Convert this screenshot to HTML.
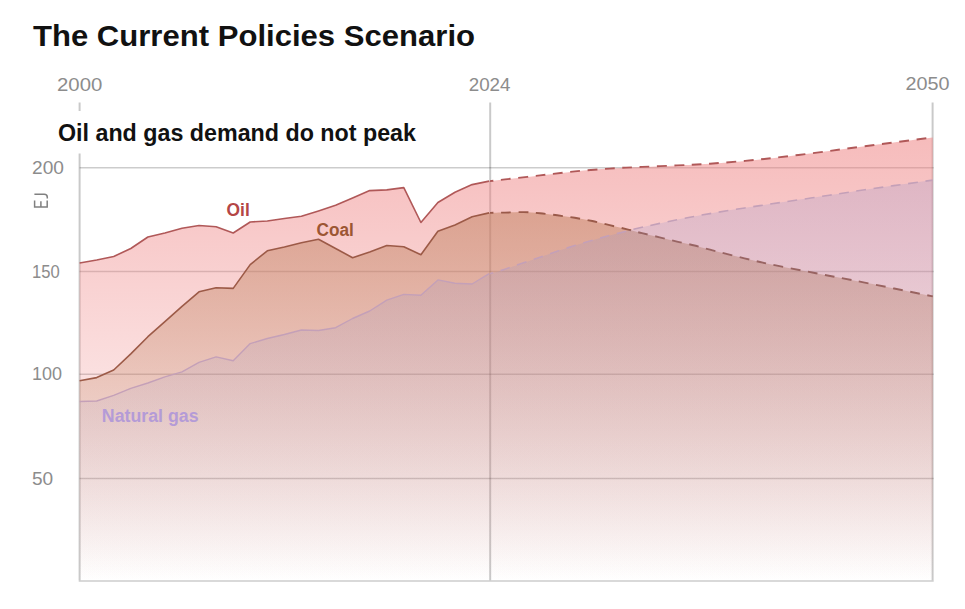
<!DOCTYPE html>
<html>
<head>
<meta charset="utf-8">
<title>The Current Policies Scenario</title>
<style>
html,body{margin:0;padding:0;background:#fff;}
body{width:965px;height:609px;overflow:hidden;font-family:"Liberation Sans",sans-serif;}
svg{display:block;position:absolute;left:0;top:0;}
text{font-family:"Liberation Sans",sans-serif;}
.ax{fill:#8c8c8c;font-size:18px;}
.b{font-weight:bold;}
</style>
</head>
<body>
<svg width="965" height="609" viewBox="0 0 965 609">
<defs>
<linearGradient id="gOil" gradientUnits="userSpaceOnUse" x1="0" y1="138" x2="0" y2="581">
<stop offset="0" stop-color="#ee8080" stop-opacity="0.53"/>
<stop offset="1" stop-color="#ee8080" stop-opacity="0"/>
</linearGradient>
<linearGradient id="gCoal" gradientUnits="userSpaceOnUse" x1="0" y1="212" x2="0" y2="581">
<stop offset="0" stop-color="#be7d59" stop-opacity="0.487"/>
<stop offset="1" stop-color="#be7d59" stop-opacity="0"/>
</linearGradient>
<linearGradient id="gGas" gradientUnits="userSpaceOnUse" x1="0" y1="179" x2="0" y2="581">
<stop offset="0" stop-color="#918fcb" stop-opacity="0.235"/>
<stop offset="1" stop-color="#918fcb" stop-opacity="0"/>
</linearGradient>
</defs>
<rect width="965" height="609" fill="#fff"/>

<!-- grid (under fills) -->
<g stroke="#000" stroke-opacity="0.2" fill="none">
<g stroke-width="1.5">
<line x1="79.6" y1="167.8" x2="933.6" y2="167.8"/>
<line x1="79.6" y1="271.6" x2="933.6" y2="271.6"/>
<line x1="79.6" y1="374.3" x2="933.6" y2="374.3"/>
<line x1="79.6" y1="478.6" x2="933.6" y2="478.6"/>
</g>
<g stroke-width="2" stroke-opacity="0.21">
<line x1="79.6" y1="102.5" x2="79.6" y2="580.25"/>
<line x1="490.2" y1="102.5" x2="490.2" y2="580.25"/>
<line x1="932.6" y1="102.5" x2="932.6" y2="580.25"/>
</g>
</g>

<!-- oil -->
<path d="M79.6,263.0 L96.7,260.0 L113.7,256.5 L130.8,248.5 L147.9,237.0 L164.9,233.0 L182.0,228.3 L199.0,225.5 L216.1,226.7 L233.2,233.0 L250.2,222.0 L267.3,221.0 L284.4,218.5 L301.4,216.3 L318.5,211.0 L335.6,205.3 L352.6,198.0 L369.7,190.6 L386.8,189.9 L403.8,187.6 L420.9,222.5 L437.9,202.5 L455.0,192.2 L472.1,184.6 L489.1,181.1 L490.0,181.1 C492.5,180.8 496.7,180.3 505.0,179.4 C513.3,178.5 528.4,176.7 540.0,175.4 C551.6,174.1 563.2,172.5 574.8,171.4 C586.4,170.3 598.5,169.3 609.7,168.6 C620.9,167.8 630.8,167.4 642.0,166.9 C653.2,166.4 665.7,165.9 677.0,165.4 C688.3,164.9 696.2,164.7 710.0,163.7 C723.8,162.7 743.0,161.2 760.0,159.4 C777.0,157.7 794.8,155.4 812.3,153.2 C829.8,151.0 844.6,148.8 864.7,146.2 C884.8,143.6 921.4,138.9 932.8,137.5 L932.8,581.0 L79.6,581.0 Z" fill="url(#gOil)"/>
<path d="M79.6,263.0 L96.7,260.0 L113.7,256.5 L130.8,248.5 L147.9,237.0 L164.9,233.0 L182.0,228.3 L199.0,225.5 L216.1,226.7 L233.2,233.0 L250.2,222.0 L267.3,221.0 L284.4,218.5 L301.4,216.3 L318.5,211.0 L335.6,205.3 L352.6,198.0 L369.7,190.6 L386.8,189.9 L403.8,187.6 L420.9,222.5 L437.9,202.5 L455.0,192.2 L472.1,184.6 L489.1,181.1" fill="none" stroke="#b05858" stroke-width="1.6" stroke-linejoin="round"/>
<path d="M490.0,181.1 C492.5,180.8 496.7,180.3 505.0,179.4 C513.3,178.5 528.4,176.7 540.0,175.4 C551.6,174.1 563.2,172.5 574.8,171.4 C586.4,170.3 598.5,169.3 609.7,168.6 C620.9,167.8 630.8,167.4 642.0,166.9 C653.2,166.4 665.7,165.9 677.0,165.4 C688.3,164.9 696.2,164.7 710.0,163.7 C723.8,162.7 743.0,161.2 760.0,159.4 C777.0,157.7 794.8,155.4 812.3,153.2 C829.8,151.0 844.6,148.8 864.7,146.2 C884.8,143.6 921.4,138.9 932.8,137.5" fill="none" stroke="#b05858" stroke-width="1.9" stroke-dasharray="9.8 7.6" stroke-dashoffset="6.3"/>
<!-- coal -->
<path d="M79.6,380.8 L96.7,377.6 L113.7,370.0 L130.8,353.9 L147.9,336.7 L164.9,321.7 L182.0,306.3 L199.0,291.8 L216.1,287.7 L233.2,288.4 L250.2,264.6 L267.3,250.8 L284.4,247.0 L301.4,242.8 L318.5,239.3 L335.6,248.5 L352.6,257.7 L369.7,252.0 L386.8,245.5 L403.8,246.7 L420.9,254.7 L437.9,231.3 L455.0,225.0 L472.1,216.8 L489.1,212.9 L490.0,212.9 C492.5,212.8 499.4,212.7 505.0,212.6 C510.6,212.5 517.9,212.0 523.7,212.1 C529.5,212.2 534.4,212.8 540.0,213.3 C545.6,213.8 551.5,214.6 557.3,215.3 C563.1,216.1 569.0,216.9 574.8,217.8 C580.6,218.8 586.5,219.8 592.3,221.0 C598.1,222.2 603.9,223.8 609.7,225.2 C615.5,226.6 621.8,228.0 627.2,229.3 C632.6,230.6 636.6,231.9 642.0,233.2 C647.4,234.5 653.8,235.9 659.6,237.3 C665.4,238.7 671.2,240.2 677.0,241.6 C682.8,243.0 689.1,244.2 694.6,245.5 C700.1,246.8 699.1,246.9 710.0,249.7 C720.9,252.4 742.5,258.1 760.0,262.0 C777.5,265.9 797.3,269.6 814.8,273.0 C832.2,276.4 845.0,278.7 864.7,282.6 C884.4,286.5 921.4,294.1 932.8,296.4 L932.8,581.0 L79.6,581.0 Z" fill="url(#gCoal)"/>
<path d="M79.6,380.8 L96.7,377.6 L113.7,370.0 L130.8,353.9 L147.9,336.7 L164.9,321.7 L182.0,306.3 L199.0,291.8 L216.1,287.7 L233.2,288.4 L250.2,264.6 L267.3,250.8 L284.4,247.0 L301.4,242.8 L318.5,239.3 L335.6,248.5 L352.6,257.7 L369.7,252.0 L386.8,245.5 L403.8,246.7 L420.9,254.7 L437.9,231.3 L455.0,225.0 L472.1,216.8 L489.1,212.9" fill="none" stroke="#9c5a47" stroke-width="1.6" stroke-linejoin="round"/>
<path d="M490.0,212.9 C492.5,212.8 499.4,212.7 505.0,212.6 C510.6,212.5 517.9,212.0 523.7,212.1 C529.5,212.2 534.4,212.8 540.0,213.3 C545.6,213.8 551.5,214.6 557.3,215.3 C563.1,216.1 569.0,216.9 574.8,217.8 C580.6,218.8 586.5,219.8 592.3,221.0 C598.1,222.2 603.9,223.8 609.7,225.2 C615.5,226.6 621.8,228.0 627.2,229.3 C632.6,230.6 636.6,231.9 642.0,233.2 C647.4,234.5 653.8,235.9 659.6,237.3 C665.4,238.7 671.2,240.2 677.0,241.6 C682.8,243.0 689.1,244.2 694.6,245.5 C700.1,246.8 699.1,246.9 710.0,249.7 C720.9,252.4 742.5,258.1 760.0,262.0 C777.5,265.9 797.3,269.6 814.8,273.0 C832.2,276.4 845.0,278.7 864.7,282.6 C884.4,286.5 921.4,294.1 932.8,296.4" fill="none" stroke="#9a5a4a" stroke-width="1.9" stroke-dasharray="9.8 7.6" stroke-dashoffset="6.3"/>
<!-- gas -->
<path d="M79.6,401.5 L96.7,401.0 L113.7,395.3 L130.8,388.4 L147.9,383.0 L164.9,376.9 L182.0,371.8 L199.0,362.4 L216.1,356.9 L233.2,360.8 L250.2,343.6 L267.3,338.5 L284.4,334.5 L301.4,330.0 L318.5,330.5 L335.6,327.7 L352.6,318.5 L369.7,311.0 L386.8,300.1 L403.8,294.4 L420.9,295.3 L437.9,279.9 L455.0,283.3 L472.1,284.0 L489.1,273.7 L490.0,273.7 C492.5,272.9 496.7,271.9 505.0,269.2 C513.3,266.4 528.4,261.1 540.0,257.2 C551.6,253.2 563.2,249.1 574.8,245.5 C586.4,241.9 598.5,238.5 609.7,235.5 C620.9,232.5 630.8,229.9 642.0,227.3 C653.2,224.7 665.7,222.1 677.0,219.8 C688.3,217.5 696.2,216.0 710.0,213.6 C723.8,211.2 743.0,208.2 760.0,205.6 C777.0,203.0 794.8,200.4 812.3,197.8 C829.8,195.2 844.6,192.8 864.7,189.8 C884.8,186.9 921.4,181.7 932.8,180.1 L932.8,581.0 L79.6,581.0 Z" fill="url(#gGas)"/>
<path d="M79.6,401.5 L96.7,401.0 L113.7,395.3 L130.8,388.4 L147.9,383.0 L164.9,376.9 L182.0,371.8 L199.0,362.4 L216.1,356.9 L233.2,360.8 L250.2,343.6 L267.3,338.5 L284.4,334.5 L301.4,330.0 L318.5,330.5 L335.6,327.7 L352.6,318.5 L369.7,311.0 L386.8,300.1 L403.8,294.4 L420.9,295.3 L437.9,279.9 L455.0,283.3 L472.1,284.0 L489.1,273.7" fill="none" stroke="#c4a0b8" stroke-width="1.4" stroke-linejoin="round"/>
<path d="M490.0,273.7 C492.5,272.9 496.7,271.9 505.0,269.2 C513.3,266.4 528.4,261.1 540.0,257.2 C551.6,253.2 563.2,249.1 574.8,245.5 C586.4,241.9 598.5,238.5 609.7,235.5 C620.9,232.5 630.8,229.9 642.0,227.3 C653.2,224.7 665.7,222.1 677.0,219.8 C688.3,217.5 696.2,216.0 710.0,213.6 C723.8,211.2 743.0,208.2 760.0,205.6 C777.0,203.0 794.8,200.4 812.3,197.8 C829.8,195.2 844.6,192.8 864.7,189.8 C884.8,186.9 921.4,181.7 932.8,180.1" fill="none" stroke="#c4a0b8" stroke-width="1.6" stroke-dasharray="9.8 7.6" stroke-dashoffset="6.3"/>

<!-- bottom axis -->
<line x1="78.7" y1="581" x2="933.7" y2="581" stroke="#000" stroke-opacity="0.2" stroke-width="1.5"/>

<!-- subtitle with white bg -->
<rect x="52" y="111" width="372" height="42.5" fill="#fff"/>
<text x="58" y="140.6" class="b" font-size="23" fill="#111" textLength="358" lengthAdjust="spacingAndGlyphs">Oil and gas demand do not peak</text>

<!-- title -->
<text x="33" y="45.7" class="b" font-size="30" fill="#111" textLength="442" lengthAdjust="spacingAndGlyphs">The Current Policies Scenario</text>

<!-- x labels -->
<text x="57" y="91" class="ax" textLength="45.3" lengthAdjust="spacingAndGlyphs">2000</text>
<text x="468.7" y="91" class="ax" textLength="41.8" lengthAdjust="spacingAndGlyphs">2024</text>
<text x="905.5" y="90.3" class="ax" textLength="44" lengthAdjust="spacingAndGlyphs">2050</text>

<!-- y labels -->
<text x="32" y="173.7" class="ax" textLength="31.9" lengthAdjust="spacingAndGlyphs">200</text>
<text x="32" y="277.7" class="ax" textLength="27.7" lengthAdjust="spacingAndGlyphs">150</text>
<text x="32" y="380.4" class="ax" textLength="30" lengthAdjust="spacingAndGlyphs">100</text>
<text x="32" y="484.7" class="ax" textLength="21.2" lengthAdjust="spacingAndGlyphs">50</text>

<!-- EJ rotated -->
<g fill="none" stroke="#808080" stroke-width="1.5">
<path d="M34.4,194.3 H44.2 Q47.3,194.3 47.3,197.2 V198.4"/>
<path d="M34.6,200.5 V207 H47.2 V200.5 M40.9,207 V201.3"/>
</g>

<!-- series labels -->
<text x="226.6" y="216.2" class="b" font-size="18" fill="#b44646" textLength="23.2" lengthAdjust="spacingAndGlyphs">Oil</text>
<text x="316.6" y="235.6" class="b" font-size="18" fill="#9c5633" textLength="37.3" lengthAdjust="spacingAndGlyphs">Coal</text>
<text x="101.8" y="421.9" class="b" font-size="18" fill="#b49bd7" textLength="96.8" lengthAdjust="spacingAndGlyphs">Natural gas</text>
</svg>
</body>
</html>
